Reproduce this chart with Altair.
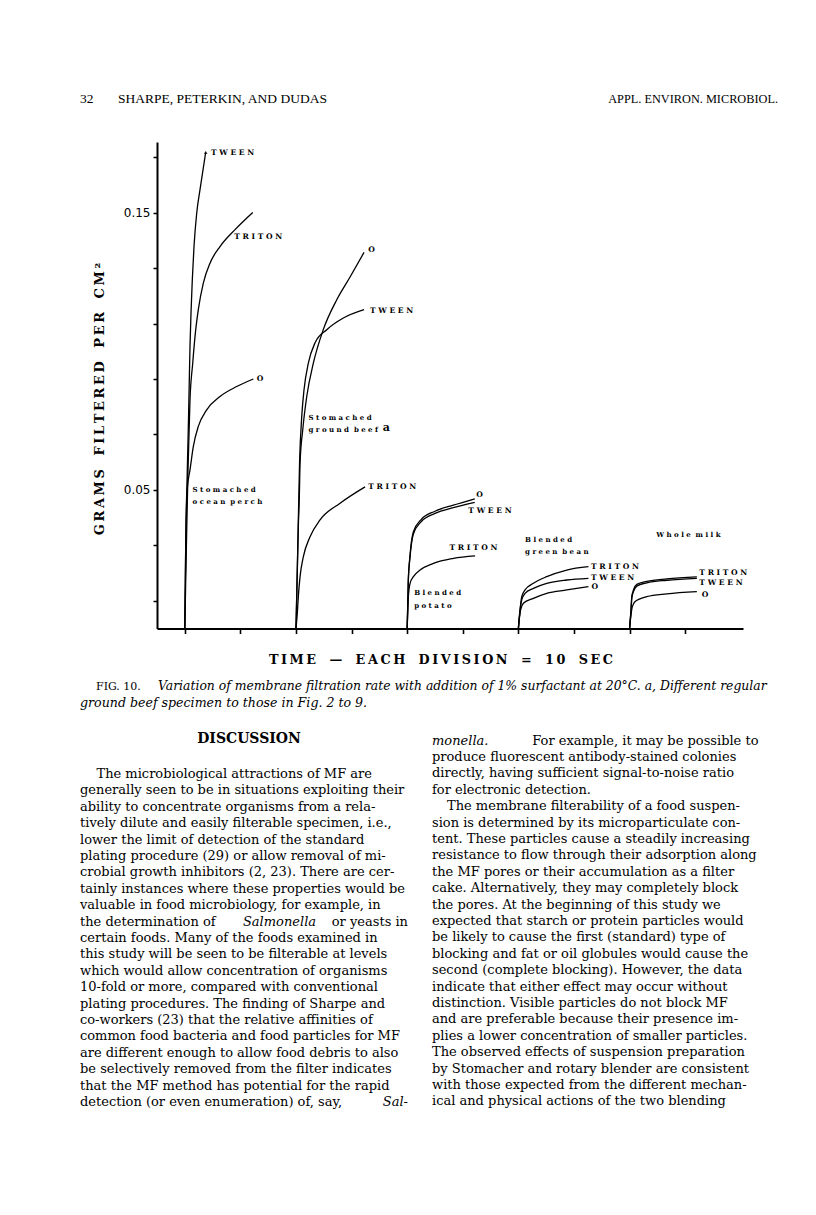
import altair as alt
import pandas as pd

# ---------------- chart data (x: time in divisions of 10 s, y: g filtered per cm2)
perch_tween_x = [1.0, 1.036, 1.09, 1.133, 1.187, 1.223, 1.27, 1.331, 1.429, 1.547, 1.752]
perch_tween_y = [0.0, 0.033, 0.0572, 0.0753, 0.1017, 0.1138, 0.1258, 0.1378, 0.1499, 0.1583, 0.1718]
perch_triton_x = [1.0, 1.062, 1.115, 1.187, 1.285, 1.367, 1.486, 1.666, 1.907, 2.267, 2.807, 3.444]
perch_triton_y = [0.0, 0.032, 0.0572, 0.0825, 0.0957, 0.1053, 0.115, 0.1246, 0.1318, 0.1378, 0.1439, 0.1501]
perch_o_x = [1.0, 1.036, 1.09, 1.187, 1.306, 1.486, 1.788, 2.267, 2.868, 3.465]
perch_o_y = [0.0, 0.0319, 0.0506, 0.0572, 0.0656, 0.0729, 0.0789, 0.0837, 0.0873, 0.090]

beef_o_x = [5.0, 5.04, 5.084, 5.12, 5.146, 5.243, 5.387, 5.624, 5.984, 6.466, 6.945, 7.449]
beef_o_y = [0.0, 0.0175, 0.0367, 0.0476, 0.0596, 0.0717, 0.0837, 0.0957, 0.1079, 0.1186, 0.1268, 0.1357]
beef_tween_x = [5.0, 5.07, 5.128, 5.207, 5.29, 5.444, 5.686, 6.107, 6.704, 7.449]
beef_tween_y = [0.0, 0.032, 0.0597, 0.0765, 0.0862, 0.0957, 0.1031, 0.1078, 0.112, 0.115]
beef_triton_x = [5.0, 5.048, 5.084, 5.146, 5.265, 5.505, 5.865, 6.585, 7.485]
beef_triton_y = [0.0, 0.0056, 0.0115, 0.0187, 0.0259, 0.0331, 0.0392, 0.0452, 0.0511]

potato_x = [9.0, 9.04, 9.1, 9.22, 9.5, 10.0, 10.66, 11.43]
potato_o_y = [0.0, 0.0175, 0.0262, 0.0348, 0.0393, 0.0423, 0.0445, 0.0468]
potato_tween_y = [0.0, 0.0170, 0.0255, 0.0340, 0.0385, 0.0415, 0.0436, 0.0455]
potato_triton_x = [9.0, 9.043, 9.104, 9.223, 9.464, 9.943, 10.662, 11.443]
potato_triton_y = [0.0, 0.0115, 0.0163, 0.0187, 0.0211, 0.0235, 0.0253, 0.0262]

bean_x = [13.0, 13.06, 13.12, 13.24, 13.54, 14.02, 14.74, 15.52]
bean_triton_y = [0.0, 0.0067, 0.0115, 0.0139, 0.0163, 0.0187, 0.0211, 0.0223]
bean_tween_y = [0.0, 0.0067, 0.0103, 0.0127, 0.0145, 0.0163, 0.0175, 0.0181]
bean_o_x = [13.0, 13.03, 13.08, 13.18, 13.54, 14.02, 14.74, 15.52]
bean_o_y = [0.0, 0.0031, 0.0067, 0.0091, 0.0109, 0.0127, 0.0139, 0.0151]

milk_x = [17.0, 17.05, 17.08, 17.14, 17.26, 17.62, 18.34, 19.42]
milk_triton_y = [0.0, 0.0067, 0.0115, 0.0139, 0.0159, 0.0170, 0.0179, 0.0186]
milk_tween_y = [0.0, 0.0062, 0.0110, 0.0133, 0.0153, 0.0165, 0.0174, 0.0181]
milk_o_x = [17.0, 17.04, 17.1, 17.2, 17.62, 18.34, 19.42]
milk_o_y = [0.0, 0.0040, 0.0079, 0.0097, 0.0115, 0.0125, 0.0133]

curves = [
    ("perch TWEEN", perch_tween_x, perch_tween_y),
    ("perch TRITON", perch_triton_x, perch_triton_y),
    ("perch O", perch_o_x, perch_o_y),
    ("beef O", beef_o_x, beef_o_y),
    ("beef TWEEN", beef_tween_x, beef_tween_y),
    ("beef TRITON", beef_triton_x, beef_triton_y),
    ("potato O", potato_x, potato_o_y),
    ("potato TWEEN", potato_x, potato_tween_y),
    ("potato TRITON", potato_triton_x, potato_triton_y),
    ("bean TRITON", bean_x, bean_triton_y),
    ("bean TWEEN", bean_x, bean_tween_y),
    ("bean O", bean_o_x, bean_o_y),
    ("milk TRITON", milk_x, milk_triton_y),
    ("milk TWEEN", milk_x, milk_tween_y),
    ("milk O", milk_o_x, milk_o_y),
]

# surfactant labels at curve ends (left edge, vertical middle, data coordinates)
curve_label_text = ["TWEEN", "TRITON", "O",
                    "O", "TWEEN", "TRITON",
                    "O", "TWEEN", "TRITON",
                    "TRITON", "TWEEN", "O",
                    "TRITON", "TWEEN", "O"]
curve_label_x = [1.94, 2.78, 3.59,
                 7.6, 7.66, 7.6,
                 11.48, 11.2, 10.52,
                 15.61, 15.61, 15.63,
                 19.51, 19.51, 19.6]
curve_label_y = [0.1717, 0.1414, 0.090,
                 0.1364, 0.1147, 0.051,
                 0.0482, 0.0425, 0.029,
                 0.0223, 0.0181, 0.0149,
                 0.0201, 0.0165, 0.0121]

# specimen labels
specimen_text = ["Stomached", "ocean perch", "Stomached", "ground beef", "Blended", "potato",
                 "Blended", "green bean", "Whole milk"]
specimen_x = [1.28, 1.28, 5.45, 5.45, 9.25, 9.25, 13.24, 13.24, 17.96]
specimen_y = [0.050, 0.0457, 0.0759, 0.0717, 0.0129, 0.0081, 0.0319, 0.0277, 0.0338]

x_ticks = list(range(1, 21))
y_ticks = [round(0.01 * i, 2) for i in range(1, 18)]
y_tick_labels = ["0.05", "0.10", "0.15"]

# ---------------- page text
header_left_num = "32"
header_left = "SHARPE, PETERKIN, AND DUDAS"
header_right = "APPL. ENVIRON. MICROBIOL."
y_title = "GRAMS FILTERED PER CM²"
x_title = "TIME — EACH DIVISION = 10 SEC"
caption_lead = "FIG. 10."
caption_line1 = "Variation of membrane filtration rate with addition of 1% surfactant at 20°C. a, Different regular"
caption_line2 = "ground beef specimen to those in Fig. 2 to 9."
section_title = "DISCUSSION"

left_col = [
    "The microbiological attractions of MF are",
    "generally seen to be in situations exploiting their",
    "ability to concentrate organisms from a rela-",
    "tively dilute and easily filterable specimen, i.e.,",
    "lower the limit of detection of the standard",
    "plating procedure (29) or allow removal of mi-",
    "crobial growth inhibitors (2, 23). There are cer-",
    "tainly instances where these properties would be",
    "valuable in food microbiology, for example, in",
    "the determination of Salmonella or yeasts in",
    "certain foods. Many of the foods examined in",
    "this study will be seen to be filterable at levels",
    "which would allow concentration of organisms",
    "10-fold or more, compared with conventional",
    "plating procedures. The finding of Sharpe and",
    "co-workers (23) that the relative affinities of",
    "common food bacteria and food particles for MF",
    "are different enough to allow food debris to also",
    "be selectively removed from the filter indicates",
    "that the MF method has potential for the rapid",
    "detection (or even enumeration) of, say, Sal-",
]
left_line10_parts = ["the determination of", "Salmonella", "or yeasts in"]
left_line21_parts = ["detection (or even enumeration) of, say,", "Sal-"]

right_col = [
    "monella. For example, it may be possible to",
    "produce fluorescent antibody-stained colonies",
    "directly, having sufficient signal-to-noise ratio",
    "for electronic detection.",
    "The membrane filterability of a food suspen-",
    "sion is determined by its microparticulate con-",
    "tent. These particles cause a steadily increasing",
    "resistance to flow through their adsorption along",
    "the MF pores or their accumulation as a filter",
    "cake. Alternatively, they may completely block",
    "the pores. At the beginning of this study we",
    "expected that starch or protein particles would",
    "be likely to cause the first (standard) type of",
    "blocking and fat or oil globules would cause the",
    "second (complete blocking). However, the data",
    "indicate that either effect may occur without",
    "distinction. Visible particles do not block MF",
    "and are preferable because their presence im-",
    "plies a lower concentration of smaller particles.",
    "The observed effects of suspension preparation",
    "by Stomacher and rotary blender are consistent",
    "with those expected from the different mechan-",
    "ical and physical actions of the two blending",
]
right_line1_parts = ["monella.", "For example, it may be possible to"]

# ---------------- build tables
rows = []
for name, xs_, ys_ in curves:
    for i, (xv, yv) in enumerate(zip(xs_, ys_)):
        rows.append({"series": name, "i": i, "x": xv, "y": yv})
curve_df = pd.DataFrame(rows)

NB = "\u00a0"
THIN = "\u2009"


def spaced(s, letter_gap=" ", word_gap=" " + NB + " "):
    # letter-spaced text; word gaps use a non-breaking space so SVG does not collapse them
    words = s.split(" ")
    return word_gap.join(letter_gap.join(list(w)) for w in words)


curve_label_df = pd.DataFrame({"text": [spaced(t) for t in curve_label_text],
                               "x": curve_label_x, "y": curve_label_y})
specimen_df = pd.DataFrame({"text": [spaced(t, " ", " " + NB) for t in specimen_text],
                            "x": specimen_x, "y": specimen_y})
sup_df = pd.DataFrame({"text": ["a"], "x": [8.12], "y": [0.0722]})
arrow_df = pd.DataFrame({"x": [perch_tween_x[-1]], "y": [perch_tween_y[-1]]})

# ---------------- layout geometry (page pixels -> chart pixels)
W, H = 586, 486.5
OX, OY = 157, 142           # plot origin on the page


def cx(p):
    return p - OX


def cy(p):
    return p - OY


XDOM = [0, 21.08]
YDOM = [0, 0.1755]
LABEL_FONT = "DejaVu Serif"
BODY_FONT = "DejaVu Serif"
BODY_SIZE = 13
LINE_H = 16.4

xs = alt.Scale(domain=XDOM, nice=False, zero=False)
ys = alt.Scale(domain=YDOM, nice=False, zero=False)

lines = alt.Chart(curve_df).mark_line(color="black", strokeWidth=1.3, interpolate="monotone").encode(
    x=alt.X("x:Q", scale=xs, axis=alt.Axis(values=x_ticks, labels=False, ticks=True, tickSize=5,
                                           tickWidth=1.6, tickColor="black", domainColor="black",
                                           domainWidth=2, grid=False, title=None)),
    y=alt.Y("y:Q", scale=ys, axis=alt.Axis(values=y_ticks, format=".2f",
                                           labelExpr="indexof(['0.05','0.10','0.15'], datum.label) >= 0 ? datum.label : ''",
                                           tickSize=4, tickWidth=1.5, tickColor="black", domainColor="black",
                                           domainWidth=2, grid=False, title=None, labelFont="DejaVu Sans",
                                           labelFontSize=12, labelColor="black", labelPadding=3,
                                           labelOverlap=False)),
    detail="series:N",
    order="i:Q",
)

arrow = alt.Chart(arrow_df).mark_point(shape="triangle-up", filled=True, size=14, color="black").encode(
    x=alt.X("x:Q", scale=xs), y=alt.Y("y:Q", scale=ys))

curve_labels = alt.Chart(curve_label_df).mark_text(font=LABEL_FONT, fontWeight="bold", fontSize=7.6,
                                                   align="left", baseline="middle", color="black").encode(
    x=alt.X("x:Q", scale=xs), y=alt.Y("y:Q", scale=ys), text="text:N")

specimen_labels = alt.Chart(specimen_df).mark_text(font=LABEL_FONT, fontWeight="bold", fontSize=7.0,
                                                   align="left", baseline="middle", color="black").encode(
    x=alt.X("x:Q", scale=xs), y=alt.Y("y:Q", scale=ys), text="text:N")

sup = alt.Chart(sup_df).mark_text(font=LABEL_FONT, fontWeight="bold", fontSize=11, align="left",
                                  baseline="middle", color="black").encode(
    x=alt.X("x:Q", scale=xs), y=alt.Y("y:Q", scale=ys), text="text:N")

one = alt.Data(values=[{"k": 0}])


def ptext(txt, x, y, **kw):
    props = dict(font=BODY_FONT, fontSize=BODY_SIZE, color="black", align="left", baseline="alphabetic")
    props.update(kw)
    return alt.Chart(one).mark_text(**props).encode(
        x=alt.value(cx(x)), y=alt.value(cy(y)), text=alt.value(txt))


page = []
# header
page.append(ptext(header_left_num, 80, 103, font="Liberation Serif", fontSize=13.5))
page.append(ptext(header_left, 118, 103, font="Liberation Serif", fontSize=13.5))
page.append(ptext(header_right, 778, 103, font="Liberation Serif", fontSize=12.3, align="right"))
# axis titles
page.append(ptext(spaced(y_title, THIN, " " + NB + " "), 100, 399, font=LABEL_FONT, fontWeight="bold",
                  fontSize=13, angle=270, align="center", baseline="middle"))
page.append(ptext(spaced(x_title, THIN, " " + NB + " "), 441, 660, font=LABEL_FONT, fontWeight="bold",
                  fontSize=12.8, align="center", baseline="middle"))
# caption
page.append(ptext(caption_lead, 96, 690, fontSize=11))
page.append(ptext(caption_line1, 158, 690, fontStyle="italic", fontSize=12.4))
page.append(ptext(caption_line2, 80, 707, fontStyle="italic", fontSize=12.6))
# section title
page.append(ptext(section_title, 249, 743, fontWeight="bold", fontSize=14, align="center"))

# left column
L0, LX, LR = 778, 80, 408
page.append(ptext(left_col[0], 96.5, L0))
page.append(ptext(left_col[1:9], LX, L0 + LINE_H, lineHeight=LINE_H))
page.append(ptext(left_line10_parts[0], LX, L0 + 9 * LINE_H))
page.append(ptext(left_line10_parts[1], 279.5, L0 + 9 * LINE_H, fontStyle="italic", align="center"))
page.append(ptext(left_line10_parts[2], LR, L0 + 9 * LINE_H, align="right"))
page.append(ptext(left_col[10:20], LX, L0 + 10 * LINE_H, lineHeight=LINE_H))
page.append(ptext(left_line21_parts[0], LX, L0 + 20 * LINE_H))
page.append(ptext(left_line21_parts[1], LR, L0 + 20 * LINE_H, fontStyle="italic", align="right"))

# right column
R0, RX, RR = 744.7, 432, 758.5
page.append(ptext(right_line1_parts[0], RX, R0, fontStyle="italic"))
page.append(ptext(right_line1_parts[1], RR, R0, align="right"))
page.append(ptext(right_col[1:4], RX, R0 + LINE_H, lineHeight=LINE_H))
page.append(ptext(right_col[4], 447, R0 + 4 * LINE_H))
page.append(ptext(right_col[5:], RX, R0 + 5 * LINE_H, lineHeight=LINE_H))

chart = alt.layer(lines, arrow, curve_labels, specimen_labels, sup, *page).properties(
    width=W, height=H,
    padding={"left": OX - 8, "top": OY - 8, "right": 65, "bottom": 580},
    autosize=alt.AutoSizeParams(type="none"),
    background="white",
).configure_view(stroke=None)

chart.save("out.html", embed_options={"renderer": "svg", "actions": False})
